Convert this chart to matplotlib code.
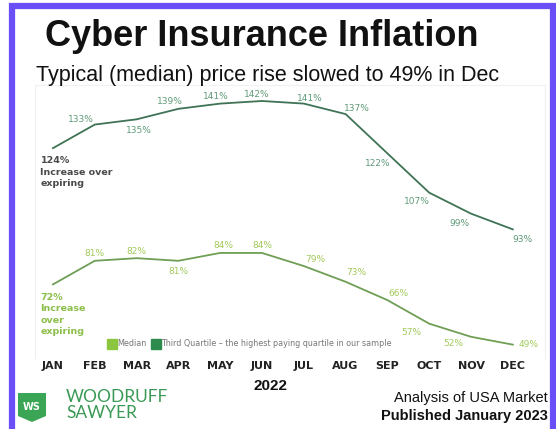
import matplotlib
matplotlib.use("Agg")
import matplotlib.pyplot as plt
from matplotlib.patches import Rectangle, Polygon
from matplotlib.lines import Line2D

months = ["JAN", "FEB", "MAR", "APR", "MAY", "JUN", "JUL", "AUG", "SEP", "OCT", "NOV", "DEC"]
third_quartile = [124, 133, 135, 139, 141, 142, 141, 137, 122, 107, 99, 93]
median = [72, 81, 82, 81, 84, 84, 79, 73, 66, 57, 52, 49]

# label offsets (points) for each data label
tq_offsets = [None, (-10, 4), (2, -8), (-6, 5), (-3, 5), (-4, 5), (4, 4), (8, 4), (-7, -7), (-9, -6), (-8, -7), (7, -7)]
md_offsets = [None, (0, 5), (0, 5), (0, -8), (2, 5), (0, 5), (8, 5), (8, 7), (8, 5), (-13, -6), (-13, -5), (11, 0)]

W, H = 556, 429
fig = plt.figure(figsize=(W / 100, H / 100), dpi=100)
fig.patch.set_facecolor("white")

def fx(px):
    return px / W

def fy(py):
    return 1 - py / H

# purple frame
fig.patches.append(Rectangle((fx(12), fy(434)), fx(553 - 12), (434 - 6) / H,
                             transform=fig.transFigure, fill=False,
                             edgecolor="#6b4ff6", linewidth=4.5, zorder=0))

# axes
ax = fig.add_axes([fx(35), fy(358), fx(545 - 35), (358 - 85) / H])
x = list(range(len(months)))
ax.set_xlim(-0.43, 11.77)
ax.set_ylim(43.9, 148.1)
for s in ax.spines.values():
    s.set_color("#f0f0f0")
    s.set_linewidth(0.8)
ax.set_yticks([])
ax.set_xticks(x)
ax.set_xticklabels(months, fontsize=8, fontweight="bold", color="#222222", family="DejaVu Sans")
ax.tick_params(axis="x", length=0, pad=2)
ax.spines["bottom"].set_visible(False)

tq_color = "#3f7355"
tq_label = "#5f9a78"
md_color = "#6f9e55"
md_label = "#a3c95a"

ax.plot(x, third_quartile, color=tq_color, linewidth=1.3)
ax.plot(x, median, color=md_color, linewidth=1.3)

for i, (v, off) in enumerate(zip(third_quartile, tq_offsets)):
    if off is None:
        continue
    ax.annotate(f"{v}%", (i, v), xytext=off, textcoords="offset points",
                ha="center", va="center", fontsize=6.5, color=tq_label)
for i, (v, off) in enumerate(zip(median, md_offsets)):
    if off is None:
        continue
    ax.annotate(f"{v}%", (i, v), xytext=off, textcoords="offset points",
                ha="center", va="center", fontsize=6.5, color=md_label)

ax.annotate(f"{third_quartile[0]}%\nIncrease over\nexpiring", (0, third_quartile[0]),
            xytext=(-9, -6), textcoords="offset points", ha="left", va="top",
            fontsize=6.8, fontweight="bold", color="#4a4a4a", linespacing=1.35)
ax.annotate(f"{median[0]}%\nIncrease\nover\nexpiring", (0, median[0]),
            xytext=(-9, -6), textcoords="offset points", ha="left", va="top",
            fontsize=6.8, fontweight="bold", color="#8cbf4a", linespacing=1.35)

handles = [Line2D([], [], marker="s", linestyle="", markersize=6.5, color="#8cc63f"),
           Line2D([], [], marker="s", linestyle="", markersize=6.5, color="#2e8b4e")]
ax.legend(handles, ["Median", "Third Quartile \u2013 the highest paying quartile in our sample"],
          loc="center", bbox_to_anchor=((250 - 35) / 510, (358 - 344) / 273), ncol=2,
          frameon=False, fontsize=5.8, handletextpad=0.2, columnspacing=0.6,
          labelcolor="#777777", handlelength=1.0)

# titles
fig.text(fx(262), fy(37), "Cyber Insurance Inflation", ha="center", va="center",
         fontsize=26, fontweight="bold", family="Liberation Sans", color="#111111")
fig.text(fx(268), fy(76), "Typical (median) price rise slowed to 49% in Dec", ha="center",
         va="center", fontsize=15.5, family="Liberation Sans", color="#111111")

fig.text(fx(270), fy(386), "2022", ha="center", va="center", fontsize=11,
         fontweight="bold", family="Liberation Sans", color="#111111")
fig.text(fx(548), fy(398), "Analysis of USA Market", ha="right", va="center",
         fontsize=10.5, family="Liberation Sans", color="#111111")
fig.text(fx(548), fy(416), "Published January 2023", ha="right", va="center",
         fontsize=10.5, fontweight="bold", family="Liberation Sans", color="#111111")

# logo
shield = Polygon([[fx(18), fy(393)], [fx(46), fy(393)], [fx(46), fy(416)],
                  [fx(32), fy(422)], [fx(18), fy(416)]], closed=True,
                 transform=fig.transFigure, facecolor="#3aa655", edgecolor="none")
fig.patches.append(shield)
fig.text(fx(32), fy(407), "WS", ha="center", va="center", fontsize=7,
         fontweight="bold", color="white", family="DejaVu Sans")
fig.text(fx(66), fy(397), "WOODRUFF", ha="left", va="center", fontsize=12.5,
         color="#3a9a55", family="Lato")
fig.text(fx(66), fy(413), "SAWYER", ha="left", va="center", fontsize=12.5,
         color="#3a9a55", family="Lato")

fig.savefig("out.png", dpi=100)
